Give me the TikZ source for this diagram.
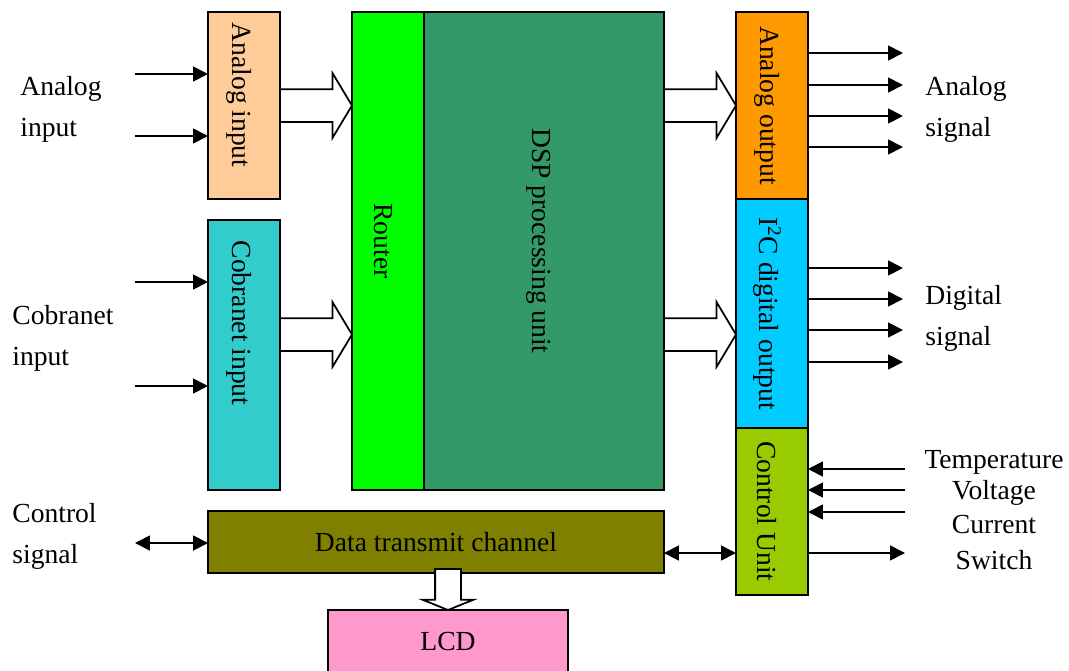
\documentclass[tikz,border=0pt]{standalone}
\usepackage{fontspec}
\setmainfont{Liberation Serif}
\usetikzlibrary{positioning, arrows.meta, shapes.arrows}

\definecolor{peach}{HTML}{FFCC99}
\definecolor{cobcol}{HTML}{33CCCC}
\definecolor{routercol}{HTML}{00FF00}
\definecolor{dspcol}{HTML}{339966}
\definecolor{aoutcol}{HTML}{FF9900}
\definecolor{i2ccol}{HTML}{00CCFF}
\definecolor{ctrlcol}{HTML}{99CC00}
\definecolor{datacol}{HTML}{808000}
\definecolor{lcdcol}{HTML}{FF99CC}

% rotated box text, optional space at its end pushes it up
\newcommand{\vtxt}[2][0cm]{\rotatebox{-90}{\raisebox{-0.1cm}[\height][\depth]{#2\hspace*{#1}}}}

\tikzset{
    box/.style={draw, line width=1pt, inner sep=0pt, outer sep=0pt, minimum width=1.44cm},
    sig/.style={line width=1pt, -{Triangle[length=0.3cm,width=0.3cm]}},
    dsig/.style={line width=1pt, {Triangle[length=0.3cm,width=0.3cm]}-{Triangle[length=0.3cm,width=0.3cm]}},
    bigarrow/.style={single arrow, draw, line width=1pt, fill=white, outer sep=0pt,
        inner xsep=0pt, inner ysep=0.31cm, minimum height=1.44cm,
        single arrow head extend=0.32cm, single arrow tip angle=118},
    txt/.style={font=\fontsize{15.7}{23.3}\selectfont, inner sep=0pt, align=left}
}

\begin{document}
\begin{tikzpicture}[x=0.02cm, y=-0.02cm, font=\fontsize{15.7}{19}\selectfont]
    \useasboundingbox (0,0) rectangle (1069,670);

    % input side
    \node[box, fill=peach, minimum height=3.74cm] (anin) at (244,105.5) {\vtxt[0.42cm]{Analog input}};
    \node[box, fill=cobcol, minimum height=5.4cm] (cobin) at (244,355) {\vtxt[1.28cm]{Cobranet input}};

    % core
    \node[box, fill=routercol, minimum height=9.56cm] (router) at (388,251) {\vtxt[0.4cm]{Router}};
    \node[box, fill=dspcol, minimum width=4.8cm, minimum height=9.56cm, right=0pt of router] (dsp) {\vtxt[0.4cm]{DSP processing unit}};

    % output side
    \node[box, fill=aoutcol, minimum height=3.74cm] (anout) at (772,105.5) {\vtxt{Analog output}};
    \node[box, fill=i2ccol, minimum height=4.58cm, below=0pt of anout] (i2c) {\vtxt{I\textsuperscript{2}C digital output}};
    \node[box, fill=ctrlcol, minimum height=3.34cm, below=0pt of i2c] (ctrl) {\vtxt{Control Unit}};

    % bottom
    \node[box, fill=datacol, minimum width=9.12cm, minimum height=1.24cm] (data) at (436,542) {Data transmit channel};
    \node[box, fill=lcdcol, minimum width=4.8cm, minimum height=1.24cm] (lcd) at (448,641) {LCD};

    % texts
    \node[txt, anchor=west] (lanin) at (20,109.5) {Analog\\input};
    \node[txt, anchor=west] (lcob) at (12,338) {Cobranet\\input};
    \node[txt, anchor=west] (lctl) at (12,536) {Control\\signal};
    \node[txt, anchor=west] (lanout) at (925,109.5) {Analog\\signal};
    \node[txt, anchor=west] (ldig) at (925,318) {Digital\\signal};
    \node (ltemp) at (994,462) {Temperature};
    \node (lvolt) at (994,493) {Voltage};
    \node (lcurr) at (994,524) {Current};
    \node (lsw) at (994,560) {Switch};

    % signal arrows in
    \coordinate (ai1) at (135,74);
    \coordinate (ai2) at (135,136);
    \coordinate (ci1) at (135,282);
    \coordinate (ci2) at (135,386);
    \draw[sig] (ai1) -- (ai1 -| anin.west);
    \draw[sig] (ai2) -- (ai2 -| anin.west);
    \draw[sig] (ci1) -- (ci1 -| cobin.west);
    \draw[sig] (ci2) -- (ci2 -| cobin.west);

    % signal arrows out
    \coordinate (ao1) at (903,53);
    \coordinate (ao2) at (903,85);
    \coordinate (ao3) at (903,116);
    \coordinate (ao4) at (903,147);
    \draw[sig] (ao1 -| anout.east) -- (ao1);
    \draw[sig] (ao2 -| anout.east) -- (ao2);
    \draw[sig] (ao3 -| anout.east) -- (ao3);
    \draw[sig] (ao4 -| anout.east) -- (ao4);

    \coordinate (do1) at (903,268);
    \coordinate (do2) at (903,299);
    \coordinate (do3) at (903,330);
    \coordinate (do4) at (903,362);
    \draw[sig] (do1 -| i2c.east) -- (do1);
    \draw[sig] (do2 -| i2c.east) -- (do2);
    \draw[sig] (do3 -| i2c.east) -- (do3);
    \draw[sig] (do4 -| i2c.east) -- (do4);

    % control unit
    \coordinate (temp) at (905,469);
    \coordinate (volt) at (905,490);
    \coordinate (curr) at (905,512);
    \coordinate (sw) at (905,553);
    \draw[sig] (temp) -- (temp -| ctrl.east);
    \draw[sig] (volt) -- (volt -| ctrl.east);
    \draw[sig] (curr) -- (curr -| ctrl.east);
    \draw[sig] (sw -| ctrl.east) -- (sw);

    \coordinate (cs) at (135,543);
    \coordinate (dc) at (700,553);
    \draw[dsig] (cs) -- (cs -| data.west);
    \draw[dsig] (dc -| data.east) -- (dc -| ctrl.west);

    % block arrows
    \coordinate (mid) at (0,334.5);
    \node[bigarrow, anchor=tail] (b1) at (anin.east) {};
    \node[bigarrow, anchor=tail] (b2) at (cobin.east |- mid) {};
    \node[bigarrow, anchor=tip] (b3) at (anout.west) {};
    \node[bigarrow, anchor=tip] (b4) at (i2c.west |- mid) {};
    \node[bigarrow, rotate=-90, anchor=tip, minimum height=0.82cm, inner ysep=0.24cm,
        single arrow head extend=0.25cm, single arrow tip angle=136] (b5) at (lcd.north) {};

\end{tikzpicture}
\end{document}
